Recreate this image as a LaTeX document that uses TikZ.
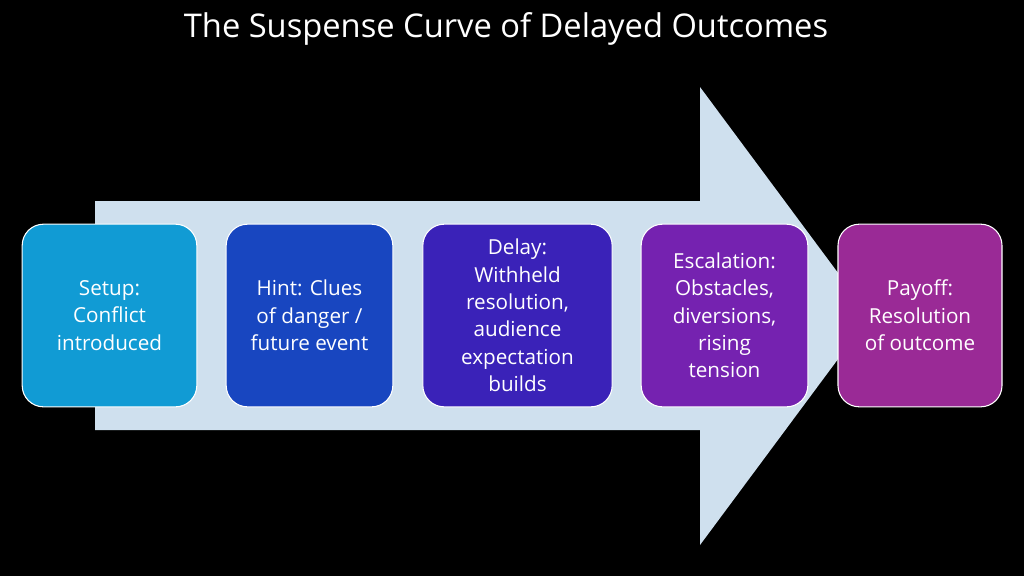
\documentclass[tikz,border=0pt]{standalone}
\usepackage{fontspec}
\setmainfont{Open Sans}
\begin{document}
\begin{tikzpicture}[x=0.75pt,y=-0.75pt,
  stage/.style={draw=white,line width=0.8pt,rounded corners=16pt,text=white,align=center,font=\fontsize{15.5}{20.5}\selectfont,inner sep=0pt}]
\fill[black] (0,0) rectangle (1024,576);
\useasboundingbox (0,0) rectangle (1024,576);
\node[text=white,font=\fontsize{24.5}{28}\selectfont] (title) at (506,29) {The Suspense Curve of Delayed Outcomes};
\fill[fill={rgb,255:red,207;green,224;blue,238}] (95,201) -- (700,201) -- (700,87) -- (870,316) -- (700,545) -- (700,430) -- (95,430) -- cycle;
\definecolor{c1}{RGB}{17,155,212}
\definecolor{c2}{RGB}{24,70,192}
\definecolor{c3}{RGB}{58,34,184}
\definecolor{c4}{RGB}{117,34,176}
\definecolor{c5}{RGB}{154,42,150}
\node[stage,fill=c1,minimum width=131pt,minimum height=137pt] (s1) at (109.5,315.5) {Setup:\\Conflict\\introduced};
\node[stage,fill=c2,minimum width=125pt,minimum height=137pt] (s2) at (309.5,315.5) {Hint: Clues\\of danger /\\future event};
\node[stage,fill=c3,minimum width=142pt,minimum height=137pt] (s3) at (517.5,315.5) {Delay:\\Withheld\\resolution,\\audience\\expectation\\builds};
\node[stage,fill=c4,minimum width=125pt,minimum height=137pt] (s4) at (724.5,315.5) {Escalation:\\Obstacles,\\diversions,\\rising\\tension};
\node[stage,fill=c5,minimum width=123pt,minimum height=137pt] (s5) at (920,315.5) {Payoff:\\Resolution\\of outcome};
\end{tikzpicture}
\end{document}
